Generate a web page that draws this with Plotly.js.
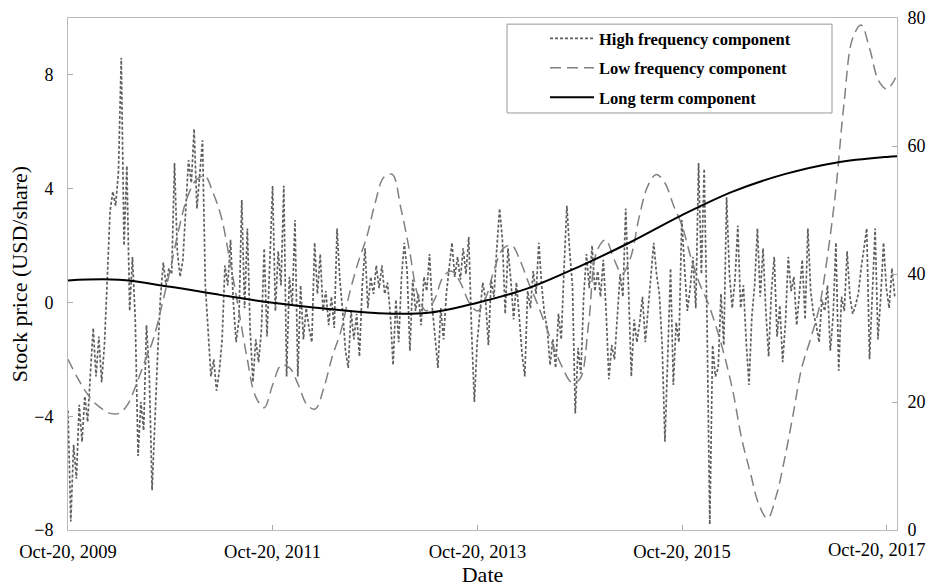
<!DOCTYPE html>
<html>
<head>
<meta charset="utf-8">
<script src="https://cdn.plot.ly/plotly-3.0.1.min.js"></script>
<style>html,body{margin:0;padding:0;background:#fff;}#chart{width:929px;height:588px;}</style>
</head>
<body>
<div id="chart"></div>
<script>
// ---- Data ----
const startDate = '2009-10-20';
const highStepDays = 10;   // high-frequency component sampled every 10 days
const highFreq = [
-3.8,-7.7,-5.0,-6.2,-3.6,-4.9,-3.3,-4.2,-2.5,-0.9,
-2.6,-1.2,-2.8,-1.5,0.8,3.2,3.9,3.4,4.6,8.6,
2.0,4.8,-0.3,1.6,-0.6,-5.4,-3.5,-4.5,-0.8,-2.5,
-6.6,-4.0,-1.8,0.2,1.4,0.6,1.2,1.0,4.9,1.8,
0.9,1.5,3.2,5.0,4.2,6.1,3.3,4.5,5.7,0.6,
-1.2,-2.6,-2.0,-3.1,-2.4,-1.3,1.3,0.6,2.2,0.0,
-1.4,-0.6,3.6,-0.2,2.6,-1.0,-2.8,-1.3,-2.1,-1.0,
1.9,-1.2,1.4,4.1,-0.3,1.8,0.6,4.1,-2.6,0.9,
-0.1,2.9,-2.6,0.6,-1.3,-0.2,-0.9,-1.4,2.1,0.3,
1.7,-0.3,0.4,-0.8,0.2,-0.9,2.6,0.8,-0.3,-1.7,
-2.3,-0.3,-1.3,-0.4,-1.9,0.6,1.9,-0.2,0.9,0.3,
1.3,0.5,1.3,0.3,0.7,-0.4,-2.2,0.1,-1.4,0.9,
2.1,1.1,-1.7,0.8,-0.3,0.3,-0.8,0.9,0.4,1.7,
-0.2,-1.2,-2.3,-0.2,-1.3,0.3,1.2,2.1,0.9,1.6,
0.8,1.9,1.0,2.3,-1.0,-3.5,-1.4,-0.2,0.7,0.1,
-1.5,0.8,0.2,1.9,3.3,2.2,-0.4,1.9,0.8,-0.6,
0.7,-0.5,-1.8,-2.6,0.4,-0.2,1.1,0.3,2.1,0.6,
-0.4,-0.9,-2.2,-1.3,-2.3,-0.4,-1.3,1.2,3.4,1.8,
0.6,-3.9,-1.6,-2.5,0.2,1.7,0.5,2.0,0.4,1.1,
0.2,1.5,-0.3,-2.7,-1.5,-2.0,-0.4,1.0,0.2,3.3,
0.5,-2.6,-0.6,-1.4,-0.7,0.2,-1.4,-0.3,0.8,2.1,
1.0,0.3,-1.5,-4.9,-1.9,1.2,-2.9,-0.7,-1.4,2.9,
1.2,-0.3,0.5,1.6,-0.2,4.9,1.0,4.7,-0.6,-7.8,
-1.5,-2.6,-2.3,0.3,-1.5,3.7,1.0,-0.2,0.8,2.7,
-0.2,0.6,-1.4,-2.9,-0.5,0.6,2.6,0.2,1.9,-0.3,
-1.9,0.4,1.6,-1.2,-0.1,-2.1,-0.7,1.6,0.4,0.9,
-0.8,0.5,1.5,-0.6,2.6,0.4,-0.4,-0.8,-1.4,0.1,
-0.3,0.6,-1.7,-0.5,2.1,-2.4,0.2,-0.3,1.8,0.2,
-0.4,-0.1,0.3,1.2,2.0,2.6,-2.0,0.6,2.6,-1.3,
0.2,2.1,0.5,-0.2,1.2,0.2
];
// low-frequency component, one value per month (20th of each month)
const lowFreq = [
-2.0,-2.6,-3.1,-3.5,-3.75,-3.9,-3.9,-3.6,-2.9,-2.1,
-1.3,-0.1,1.16,2.6,3.7,4.3,4.45,3.9,3.0,1.5,
-0.2,-1.9,-3.3,-3.7,-2.9,-2.2,-2.3,-2.9,-3.6,-3.75,
-3.0,-1.9,-1.0,0.3,1.4,2.3,3.5,4.4,4.5,3.3,
1.8,0.3,-0.3,0.1,0.9,1.1,0.7,0.0,-0.3,0.2,
1.2,1.9,2.0,1.5,0.7,0.0,-0.8,-1.6,-2.3,-2.8,
-2.7,-0.8,1.8,2.2,1.5,1.0,1.6,3.0,4.1,4.5,
4.2,3.4,2.7,1.6,0.7,0.0,-0.9,-1.9,-3.2,-4.8,
-6.0,-7.1,-7.6,-6.8,-5.5,-3.9,-2.3,-1.3,-0.2,1.5,
3.9,7.0,9.3,9.75,8.9,7.8,7.5,7.9
];
// long-term component (right axis)
const longDates = ['2009-10-20','2010-04-20','2010-10-20','2011-04-20','2011-10-20','2012-04-20',
  '2012-10-20','2013-04-20','2013-10-20','2014-04-20','2014-10-20','2015-04-20','2015-10-20',
  '2016-04-20','2016-10-20','2017-04-20','2017-10-20','2017-11-25'];
const longTerm = [39.0,39.1,38.0,36.7,35.5,34.6,33.9,33.9,35.5,37.8,41.2,45.0,49.2,52.9,55.6,57.4,58.3,58.4];

const xTickVals = ['2009-10-20','2011-10-20','2013-10-20','2015-10-20','2017-10-20'];
const xTickText = ['Oct-20, 2009','Oct-20, 2011','Oct-20, 2013','Oct-20, 2015','Oct-20, 2017'];
const yTickVals = [-8,-4,0,4,8];
const y2TickVals = [0,20,40,60,80];
const seriesNames = ['High frequency component','Low frequency component','Long term component'];

// ---- helpers ----
function addDays(iso, n){ const d = new Date(iso + 'T00:00:00Z'); d.setUTCDate(d.getUTCDate() + n); return d.toISOString().slice(0,10); }
function addMonths(iso, k){ const p = iso.split('-').map(Number); const d = new Date(Date.UTC(p[0], p[1]-1+k, p[2])); return d.toISOString().slice(0,10); }
const highDates = highFreq.map((_, i) => addDays(startDate, i * highStepDays));
const lowDates = lowFreq.map((_, k) => addMonths(startDate, k));

const FONT = 'Liberation Serif, Times New Roman, serif';
const lastIdx = xTickVals.length - 1;
// the last date label sits against the right edge of the picture (kept inside it, as in the reference)
const shownTickText = xTickText.map((t, i) => i === lastIdx ? '' : t);

const traces = [
  {x: highDates, y: highFreq, type: 'scatter', mode: 'lines', name: seriesNames[0], legendgroup: 'a',
   line: {color: '#5f5f5f', width: 1.7, dash: '3px,2px'}, yaxis: 'y'},
  {x: lowDates, y: lowFreq, type: 'scatter', mode: 'lines', name: seriesNames[1], legendgroup: 'b',
   line: {color: '#808080', width: 1.5, dash: '11px,6px', shape: 'spline', smoothing: 1}, yaxis: 'y'},
  {x: longDates, y: longTerm, type: 'scatter', mode: 'lines', name: seriesNames[2], legendgroup: 'c',
   line: {color: '#000000', width: 2, shape: 'spline', smoothing: 1}, yaxis: 'y2'}
];

const layout = {
  width: 929, height: 588,
  margin: {l: 68, r: 32, t: 18, b: 58, pad: 0},
  paper_bgcolor: '#ffffff', plot_bgcolor: '#ffffff',
  font: {family: FONT, size: 19, color: '#000'},
  showlegend: true,
  legend: {x: 0.5754, y: 0.994, xanchor: 'left', yanchor: 'top', bgcolor: 'rgba(0,0,0,0)',
           borderwidth: 0, font: {family: FONT, size: 16.5, color: '#000', weight: 'bold'},
           tracegroupgap: 5, itemwidth: 44},
  xaxis: {type: 'date', range: ['2009-10-20', '2017-11-25'], tickvals: xTickVals, ticktext: shownTickText,
          ticks: 'inside', ticklen: 5, tickcolor: '#aaa', showline: true, linecolor: '#bbb', linewidth: 1,
          mirror: true, showgrid: false, zeroline: false, tickfont: {family: FONT, size: 18.5, color: '#000'},
          ticklabelstandoff: 5,
          title: {text: 'Date', font: {family: FONT, size: 22, color: '#000'}, standoff: 5}, automargin: false},
  yaxis: {range: [-8, 10], tickvals: yTickVals, ticks: 'inside', ticklen: 5, tickcolor: '#aaa',
          showline: true, linecolor: '#bbb', linewidth: 1, mirror: true, showgrid: false, zeroline: false,
          tickfont: {family: FONT, size: 18, color: '#000'}, ticklabelstandoff: 10,
          title: {text: 'Stock price (USD/share)', font: {family: FONT, size: 22, color: '#000'}, standoff: 0},
          automargin: false},
  yaxis2: {range: [0, 80], tickvals: y2TickVals, overlaying: 'y', side: 'right', ticks: 'inside', ticklen: 5,
           tickcolor: '#aaa', showline: true, linecolor: '#bbb', showgrid: false, zeroline: false,
           tickfont: {family: FONT, size: 18, color: '#000'}, ticklabelstandoff: 6, automargin: false},
  annotations: [{x: xTickVals[lastIdx], xref: 'x', y: 0, yref: 'paper', yanchor: 'top', xanchor: 'center',
                 text: xTickText[lastIdx], showarrow: false, xshift: -10, yshift: -8,
                 font: {family: FONT, size: 18.5, color: '#000'}}],
  shapes: [{type: 'rect', xref: 'paper', yref: 'paper', x0: 0.5296, x1: 0.9216, y0: 0.8145, y1: 0.988,
            line: {color: '#999', width: 1}, fillcolor: 'rgba(0,0,0,0)', layer: 'above'}]
};

Plotly.newPlot('chart', traces, layout, {displayModeBar: false, staticPlot: true});
</script>
</body>
</html>
